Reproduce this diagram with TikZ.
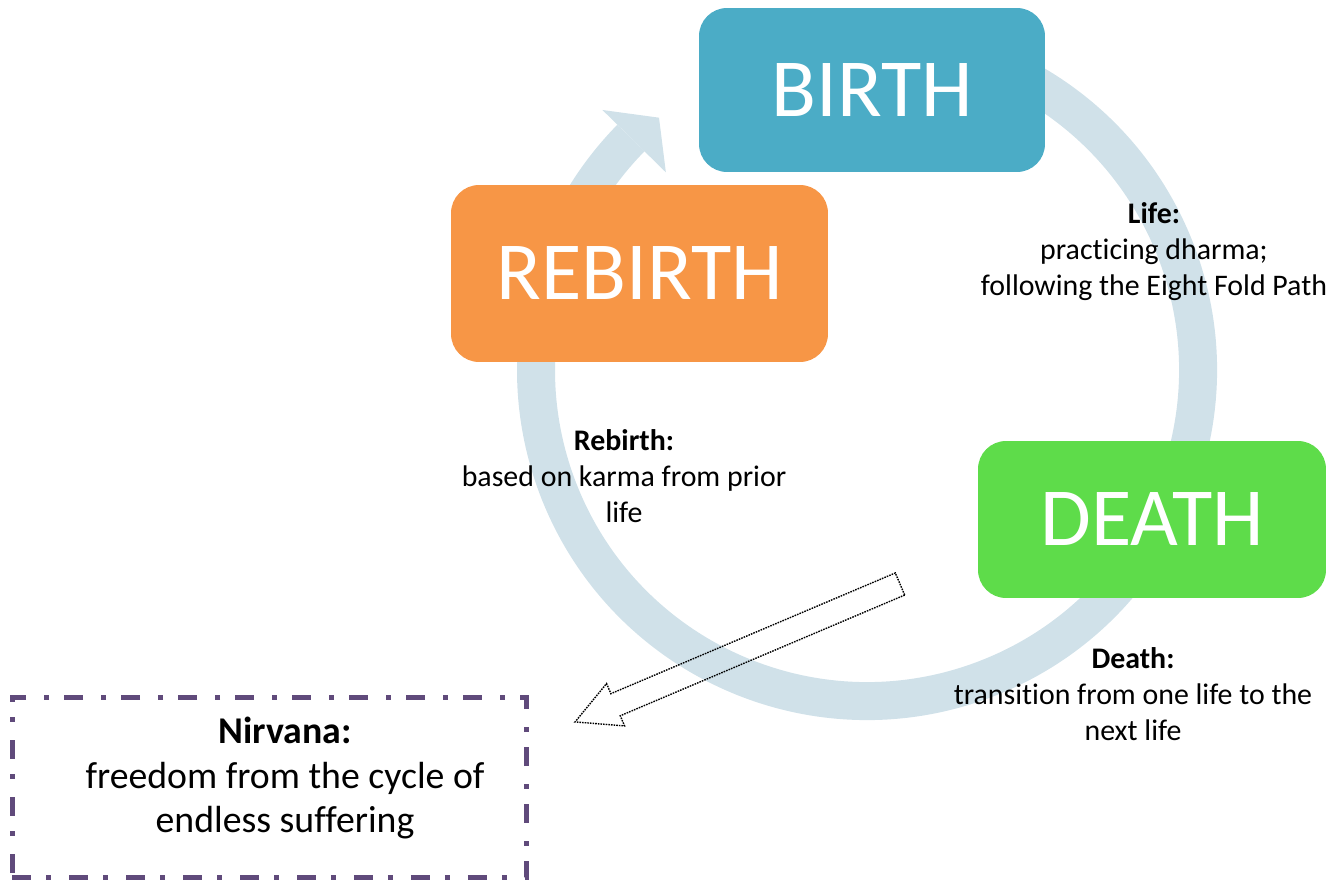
\documentclass[tikz,border=0pt]{standalone}
\usepackage{fontspec}
\setmainfont{Carlito}[RawFeature=-liga]
\definecolor{birthblue}{RGB}{75,172,198}
\definecolor{rebirthorange}{RGB}{247,150,70}
\definecolor{deathgreen}{RGB}{94,220,74}
\definecolor{ringblue}{RGB}{208,225,233}
\definecolor{nirvanapurple}{RGB}{96,74,123}
\begin{document}
\begin{tikzpicture}[x=0.02cm, y=0.02cm,
    stage/.style={rectangle, rounded corners=0.56cm, text=white, inner sep=0,
      font=\fontsize{47}{56}\selectfont},
    note/.style={align=center, font=\fontsize{17}{20.5}\selectfont},
    ring/.style={draw=ringblue, line width=0.76cm}]
  \useasboundingbox (0,0) rectangle (1343,-882);
  % the cycle
  \coordinate (hub) at (867,-370);
  \begin{scope}[shift={(hub)}]
    \draw[ring] (110:331) arc (110:-224.5:331);
    \fill[ringblue] (135.5:371) -- (129.5:327) -- (135.5:282) -- cycle;
  \end{scope}
  % stages
  \node at (872,-90) [stage, fill=birthblue, minimum width=6.92cm, minimum height=3.28cm] (birth) {BIRTH};
  \node at (639.5,-273.5) [stage, fill=rebirthorange, minimum width=7.54cm, minimum height=3.54cm] (rebirth) {REBIRTH};
  \node at (1152,-519.5) [stage, fill=deathgreen, minimum width=6.96cm, minimum height=3.14cm] (death) {DEATH};
  % notes
  \node at (1154,-252) [note] (life) {\textbf{Life:}\\practicing dharma;\\following the Eight Fold Path};
  \node at (624,-476) [note] (reborn) {\textbf{Rebirth:}\\based on karma from prior\\life};
  \node at (1133,-694) [note] (dying) {\textbf{Death:}\\transition from one life to the\\next life};
  % way out
  \node at (269.5,-787.5) [draw=nirvanapurple, line width=0.1cm, minimum width=10.3cm, minimum height=3.62cm,
    dash pattern=on 0.38cm off 0.3cm on 0.1cm off 0.36cm] (nirvana) {};
  \node at (285,-778) [align=center, font=\fontsize{21.5}{25.5}\selectfont] (freedom) {\textbf{Nirvana:}\\freedom from the cycle of\\endless suffering};
  \coordinate (exit) at (900,-584);
  \begin{scope}[shift={(exit)}, rotate=203]
    \draw[line width=0.8pt, dash pattern=on 0.9pt off 0.6pt] (0,12) -- (309,12) -- (309,23) -- (353,0) -- (309,-23) -- (309,-12) -- (0,-12) -- cycle;
  \end{scope}
\end{tikzpicture}
\end{document}
